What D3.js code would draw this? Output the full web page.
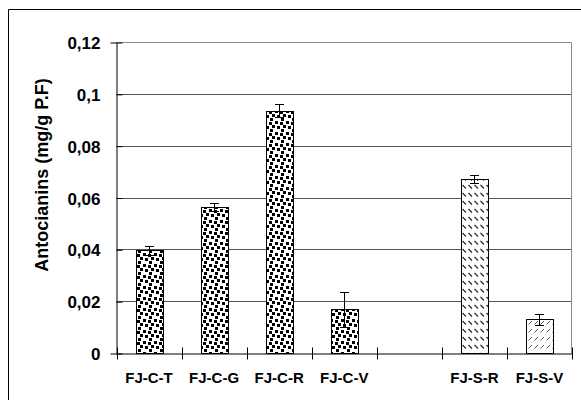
<!DOCTYPE html>
<meta charset="utf-8">
<style>
body { margin: 0; background: #fff; }
text { font-family: "Liberation Sans", Arial, sans-serif; font-weight: bold; fill: #000; }
</style>
<body>
<div id="chart"></div>
<script src="https://cdnjs.cloudflare.com/ajax/libs/d3/7.8.5/d3.min.js"></script>
<script>

// data
var categories = ["FJ-C-T", "FJ-C-G", "FJ-C-R", "FJ-C-V", "", "FJ-S-R", "FJ-S-V"];
var values     = [0.0397, 0.0563, 0.0935, 0.0169, null, 0.0672, 0.0130];
var errors     = [0.0017, 0.0015, 0.0025, 0.0068, null, 0.0015, 0.0022];
var yTicks      = [0, 0.02, 0.04, 0.06, 0.08, 0.1, 0.12];
var yTickLabels = ["0", "0,02", "0,04", "0,06", "0,08", "0,1", "0,12"];
var yTitle = "Antocianins (mg/g P.F)";

var width = 581, height = 400;
var plotL = 116.5, plotR = 571.5, plotT = 42.5, plotB = 353.5;

var svg = d3.select("#chart").append("svg")
    .attr("width", width)
    .attr("height", height);

// patterns
var defs = svg.append("defs");
var dots = defs.append("pattern").attr("id", "dots")
    .attr("patternUnits", "userSpaceOnUse").attr("width", 11).attr("height", 11);
dots.append("rect").attr("width", 11).attr("height", 11).attr("fill", "#fff");
[[0, 0], [5, 1], [2, 5], [8, 4], [6, 8]].forEach(function(p) {
  dots.append("rect").attr("x", p[0]).attr("y", p[1]).attr("width", 3).attr("height", 3).attr("fill", "#000");
});

var back = defs.append("pattern").attr("id", "back")
    .attr("patternUnits", "userSpaceOnUse").attr("width", 6).attr("height", 8);
back.append("rect").attr("width", 6).attr("height", 8).attr("fill", "#fff");
back.append("line").attr("x1", 0.5).attr("y1", 1).attr("x2", 4).attr("y2", 4.5)
    .attr("stroke", "#222").attr("stroke-width", 1.1);

var fwd = defs.append("pattern").attr("id", "fwd")
    .attr("patternUnits", "userSpaceOnUse").attr("width", 6).attr("height", 8);
fwd.append("rect").attr("width", 6).attr("height", 8).attr("fill", "#fff");
fwd.append("line").attr("x1", 0.5).attr("y1", 4.5).attr("x2", 4).attr("y2", 1)
    .attr("stroke", "#555").attr("stroke-width", 1);

function fillFor(cat) {
  if (cat.indexOf("FJ-S-R") === 0) return "url(#back)";
  if (cat.indexOf("FJ-S-V") === 0) return "url(#fwd)";
  return "url(#dots)";
}

// outer chart frame (runs off the right and bottom)
svg.append("path")
    .attr("d", "M8.5," + height + "V9.5H" + width)
    .attr("fill", "none").attr("stroke", "#000");

var x = d3.scaleBand().domain(categories.map(function(c, i) { return i; }))
    .range([plotL, 572]).padding(0);
var y = d3.scaleLinear().domain([0, 0.12]).range([plotB, plotT]);

// gridlines
svg.append("g").selectAll("line")
  .data(yTicks.filter(function(d) { return d > 0; }))
  .enter().append("line")
    .attr("x1", plotL).attr("x2", plotR)
    .attr("y1", function(d) { return Math.round(y(d) - 0.5) + 0.5; })
    .attr("y2", function(d) { return Math.round(y(d) - 0.5) + 0.5; })
    .attr("stroke", function(d) { return d === 0.12 ? "#8a8a8a" : "#555"; });

// plot area right border
svg.append("line")
    .attr("x1", plotR).attr("x2", plotR).attr("y1", plotT).attr("y2", plotB)
    .attr("stroke", "#8a8a8a");

var rows = categories.map(function(c, i) { return {i: i, cat: c, v: values[i], e: errors[i]}; })
    .filter(function(d) { return d.v !== null; });

var bw = x.bandwidth() * 0.41;

svg.append("g").selectAll("rect")
  .data(rows).enter().append("rect")
    .attr("x", function(d) { return Math.round(x(d.i) + (x.bandwidth() - bw) / 2) + 0.5; })
    .attr("y", function(d) { return Math.round(y(d.v) - 0.5) + 0.5; })
    .attr("width", Math.round(bw))
    .attr("height", function(d) { return plotB - (Math.round(y(d.v) - 0.5) + 0.5); })
    .attr("fill", function(d) { return fillFor(d.cat); })
    .attr("stroke", "#000").attr("stroke-width", 1);

// error bars
var eb = svg.append("g").selectAll("g")
  .data(rows).enter().append("g")
    .attr("transform", function(d) { return "translate(" + (Math.round(x(d.i) + x.bandwidth() / 2) + 0.5) + ",0)"; });
eb.append("line")
    .attr("y1", function(d) { return y(d.v - d.e); })
    .attr("y2", function(d) { return y(d.v + d.e); })
    .attr("stroke", "#000");
eb.append("line")
    .attr("x1", -4.5).attr("x2", 4.5)
    .attr("y1", function(d) { return Math.round(y(d.v + d.e) - 0.5) + 0.5; })
    .attr("y2", function(d) { return Math.round(y(d.v + d.e) - 0.5) + 0.5; })
    .attr("stroke", "#000");
eb.append("line")
    .attr("x1", -4.5).attr("x2", 4.5)
    .attr("y1", function(d) { return Math.round(y(d.v - d.e) - 0.5) + 0.5; })
    .attr("y2", function(d) { return Math.round(y(d.v - d.e) - 0.5) + 0.5; })
    .attr("stroke", "#000");

// y axis
var yAxis = svg.append("g")
    .attr("transform", "translate(" + plotL + ",0)")
    .call(d3.axisLeft(y).tickValues(yTicks)
      .tickFormat(function(d, i) { return yTickLabels[i]; })
      .tickSize(6).tickPadding(10));
yAxis.select(".domain").attr("stroke", "#000");
yAxis.selectAll(".tick line").attr("x2", 6).attr("stroke", "#000");
yAxis.selectAll(".tick text")
    .attr("font-size", 17).attr("font-family", null).attr("dy", "0.36em");

// x axis
var xAxis = svg.append("g")
    .attr("transform", "translate(0," + plotB + ")")
    .call(d3.axisBottom(x).tickValues([]).tickSize(0));
xAxis.select(".domain").attr("stroke", "#000");
xAxis.selectAll(".sep")
  .data(d3.range(categories.length + 1)).enter().append("line")
    .attr("x1", function(d) { return Math.round(plotL + d * x.step()) + 0.5; })
    .attr("x2", function(d) { return Math.round(plotL + d * x.step()) + 0.5; })
    .attr("y1", -6).attr("y2", 6).attr("stroke", "#000");
xAxis.selectAll(".lab")
  .data(categories).enter().append("text")
    .attr("x", function(d, i) { return x(i) + x.bandwidth() / 2; })
    .attr("y", 29)
    .attr("text-anchor", "middle")
    .attr("font-size", 15)
    .text(function(d) { return d; });

// y title
svg.append("text")
    .attr("transform", "translate(48,175) rotate(-90)")
    .attr("text-anchor", "middle")
    .attr("font-size", 18)
    .text(yTitle);

</script>
</body>
